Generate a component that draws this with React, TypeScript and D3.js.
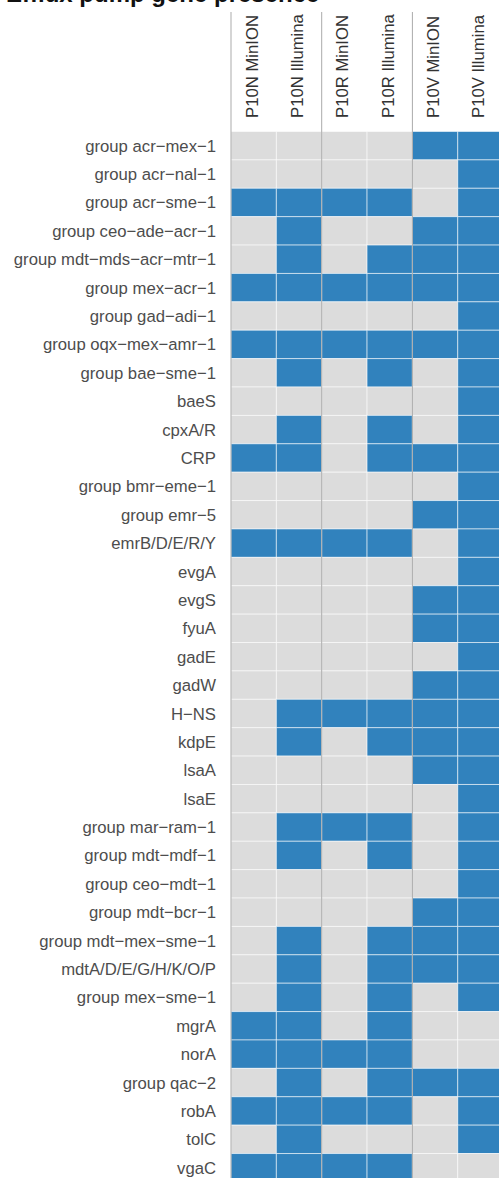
import React, { useEffect, useRef } from 'react';
import * as d3 from 'd3';

// samples (columns) and their platform groups
const samples = [
  'P10N MinION', 'P10N Illumina',
  'P10R MinION', 'P10R Illumina',
  'P10V MinION', 'P10V Illumina',
];

const genes = [
  'group acr−mex−1', 'group acr−nal−1', 'group acr−sme−1', 'group ceo−ade−acr−1',
  'group mdt−mds−acr−mtr−1', 'group mex−acr−1', 'group gad−adi−1', 'group oqx−mex−amr−1',
  'group bae−sme−1', 'baeS', 'cpxA/R', 'CRP', 'group bmr−eme−1', 'group emr−5',
  'emrB/D/E/R/Y', 'evgA', 'evgS', 'fyuA', 'gadE', 'gadW', 'H−NS', 'kdpE', 'lsaA', 'lsaE',
  'group mar−ram−1', 'group mdt−mdf−1', 'group ceo−mdt−1', 'group mdt−bcr−1',
  'group mdt−mex−sme−1', 'mdtA/D/E/G/H/K/O/P', 'group mex−sme−1', 'mgrA', 'norA',
  'group qac−2', 'robA', 'tolC', 'vgaC',
];

// presence (1) / absence (0), one row per gene, columns in sample order
const presence = [
  [0, 0, 0, 0, 1, 1],
  [0, 0, 0, 0, 0, 1],
  [1, 1, 1, 1, 0, 1],
  [0, 1, 0, 0, 1, 1],
  [0, 1, 0, 1, 1, 1],
  [1, 1, 1, 1, 1, 1],
  [0, 0, 0, 0, 0, 1],
  [1, 1, 1, 1, 1, 1],
  [0, 1, 0, 1, 0, 1],
  [0, 0, 0, 0, 0, 1],
  [0, 1, 0, 1, 0, 1],
  [1, 1, 0, 1, 1, 1],
  [0, 0, 0, 0, 0, 1],
  [0, 0, 0, 0, 1, 1],
  [1, 1, 1, 1, 0, 1],
  [0, 0, 0, 0, 0, 1],
  [0, 0, 0, 0, 1, 1],
  [0, 0, 0, 0, 1, 1],
  [0, 0, 0, 0, 0, 1],
  [0, 0, 0, 0, 1, 1],
  [0, 1, 1, 1, 1, 1],
  [0, 1, 0, 1, 1, 1],
  [0, 0, 0, 0, 1, 1],
  [0, 0, 0, 0, 0, 1],
  [0, 1, 1, 1, 0, 1],
  [0, 1, 0, 1, 0, 1],
  [0, 0, 0, 0, 0, 1],
  [0, 0, 0, 0, 1, 1],
  [0, 1, 0, 1, 1, 1],
  [0, 1, 0, 1, 1, 1],
  [0, 1, 0, 1, 0, 1],
  [1, 1, 0, 1, 0, 0],
  [1, 1, 1, 1, 0, 0],
  [0, 1, 0, 1, 1, 1],
  [1, 1, 1, 1, 0, 1],
  [0, 1, 0, 0, 0, 1],
  [1, 1, 1, 1, 0, 0],
];

const groupStarts = ['P10N MinION', 'P10R MinION', 'P10V MinION'];

const App = () => {
  const svgRef = useRef<SVGSVGElement>(null);

  useEffect(() => {
    const W = 499, H = 1178;
    const svg = d3.select(svgRef.current);
    svg.selectAll('*').remove();
    svg.attr('width', W).attr('height', H);

    const font = 'Liberation Sans, Arial, Helvetica, sans-serif';
    const gridLeft = 231, colW = 45.35;
    const gridTop = 131.5, rowH = 28.39;

    const x = d3.scaleBand().domain(samples).range([gridLeft, gridLeft + colW * samples.length]);
    const y = d3.scaleBand().domain(genes).range([gridTop, gridTop + rowH * genes.length]);
    const color = d3.scaleOrdinal<number, string>().domain([0, 1]).range(['#dcdcdc', '#3182bd']);

    // title, mostly cut off above the frame
    svg.append('text')
      .attr('x', 6).attr('y', 2)
      .attr('font-family', font).attr('font-weight', 'bold').attr('font-size', 24)
      .attr('fill', '#111')
      .text('Efflux pump gene presence');

    const cells = genes.flatMap((g, i) => samples.map((s, j) => ({ g, s, v: presence[i][j] })));

    svg.append('g').selectAll('rect')
      .data(cells)
      .enter().append('rect')
      .attr('x', d => x(d.s)!)
      .attr('y', d => y(d.g)!)
      .attr('width', x.bandwidth())
      .attr('height', y.bandwidth())
      .attr('fill', d => color(d.v))
      .attr('stroke', '#ffffff')
      .attr('stroke-opacity', 0.55)
      .attr('stroke-width', 1);

    // sample group separators
    svg.append('g').selectAll('line')
      .data(groupStarts)
      .enter().append('line')
      .attr('x1', d => x(d)!).attr('x2', d => x(d)!)
      .attr('y1', 12).attr('y2', H)
      .attr('stroke', '#ababab')
      .attr('stroke-width', 1);

    // column headers
    svg.append('g').selectAll('text')
      .data(samples)
      .enter().append('text')
      .attr('transform', d => `translate(${x(d)! + x.bandwidth() / 2 + 4},118) rotate(-90)`)
      .attr('font-family', font).attr('font-size', 16.7)
      .attr('fill', '#333')
      .text(d => d);

    // row labels
    svg.append('g').selectAll('text')
      .data(genes)
      .enter().append('text')
      .attr('x', 216)
      .attr('y', d => y(d)! + y.bandwidth() / 2)
      .attr('dy', '0.36em')
      .attr('text-anchor', 'end')
      .attr('font-family', font).attr('font-size', 16.7)
      .attr('fill', '#4d4d4d')
      .text(d => d);
  }, []);

  return (
    <div style={{ position: 'absolute', left: 0, top: 0, width: 499, height: 1178, overflow: 'hidden' }}>
      <svg ref={svgRef} style={{ display: 'block' }}></svg>
    </div>
  );
};

export default App;
